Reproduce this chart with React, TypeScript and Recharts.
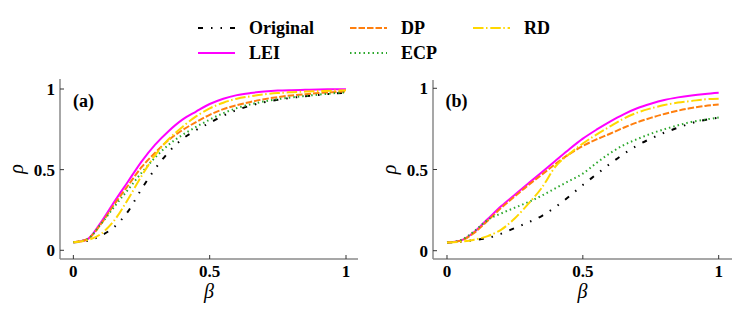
import { LineChart, Line, XAxis, YAxis, Label } from 'recharts';

const BETA = [0, 0.05, 0.1, 0.15, 0.2, 0.25, 0.3, 0.35, 0.4, 0.45, 0.5, 0.55, 0.6, 0.65, 0.7, 0.75, 0.8, 0.85, 0.9, 0.95, 1];

// panel (a)
const ORIGINAL_A = [0.05, 0.058, 0.09, 0.145, 0.24, 0.38, 0.505, 0.61, 0.69, 0.745, 0.79, 0.835, 0.87, 0.897, 0.918, 0.933, 0.945, 0.955, 0.963, 0.971, 0.977];
const LEI_A = [0.05, 0.067, 0.17, 0.3, 0.425, 0.55, 0.655, 0.74, 0.81, 0.86, 0.907, 0.94, 0.962, 0.975, 0.984, 0.99, 0.993, 0.995, 0.997, 0.998, 0.999];
const DP_A = [0.05, 0.067, 0.16, 0.285, 0.4, 0.515, 0.605, 0.685, 0.745, 0.795, 0.84, 0.875, 0.9, 0.92, 0.937, 0.95, 0.96, 0.968, 0.975, 0.98, 0.985];
const ECP_A = [0.05, 0.068, 0.16, 0.27, 0.375, 0.48, 0.575, 0.655, 0.715, 0.765, 0.81, 0.85, 0.882, 0.905, 0.923, 0.937, 0.948, 0.957, 0.965, 0.973, 0.98];
const RD_A = [0.05, 0.062, 0.1, 0.185, 0.315, 0.46, 0.59, 0.69, 0.765, 0.83, 0.88, 0.915, 0.94, 0.955, 0.967, 0.975, 0.98, 0.984, 0.987, 0.99, 0.992];

// panel (b)
const ORIGINAL_B = [0.05, 0.055, 0.065, 0.078, 0.105, 0.14, 0.175, 0.215, 0.27, 0.335, 0.405, 0.47, 0.535, 0.595, 0.648, 0.69, 0.727, 0.757, 0.786, 0.805, 0.82];
const LEI_B = [0.05, 0.062, 0.115, 0.195, 0.275, 0.345, 0.415, 0.485, 0.555, 0.625, 0.69, 0.745, 0.795, 0.84, 0.877, 0.905, 0.928, 0.944, 0.956, 0.965, 0.972];
const DP_B = [0.05, 0.062, 0.11, 0.185, 0.265, 0.335, 0.405, 0.47, 0.535, 0.595, 0.645, 0.685, 0.72, 0.757, 0.79, 0.818, 0.842, 0.862, 0.879, 0.891, 0.9];
const ECP_B = [0.05, 0.065, 0.12, 0.19, 0.23, 0.265, 0.3, 0.34, 0.385, 0.43, 0.475, 0.54, 0.6, 0.65, 0.687, 0.72, 0.748, 0.772, 0.793, 0.807, 0.82];
const RD_B = [0.05, 0.055, 0.068, 0.09, 0.13, 0.2, 0.29, 0.39, 0.52, 0.595, 0.66, 0.715, 0.765, 0.813, 0.85, 0.876, 0.897, 0.912, 0.922, 0.932, 0.936];

const TICKS = [0, 0.5, 1];

const SERIES = [
  { key: 'original', name: 'Original', color: '#000000', dash: '5 8 1.5 8 1.5 8', width: 2 },
  { key: 'lei', name: 'LEI', color: '#ff00ff', dash: undefined, width: 2 },
  { key: 'dp', name: 'DP', color: '#ff7f0e', dash: '6.5 2', width: 2 },
  { key: 'ecp', name: 'ECP', color: '#2ca82c', dash: '1.5 3', width: 2 },
  { key: 'rd', name: 'RD', color: '#ffd700', dash: '10.5 2.5 1.5 2.8', width: 2 },
];

const FONT = '"Liberation Serif", "Times New Roman", Tinos, "Noto Serif", "DejaVu Serif", FreeSerif, serif';

function buildRows(original: number[], lei: number[], dp: number[], ecp: number[], rd: number[]) {
  return BETA.map((b, i) => ({
    beta: b,
    original: original[i],
    lei: lei[i],
    dp: dp[i],
    ecp: ecp[i],
    rd: rd[i],
  }));
}

const rowsA = buildRows(ORIGINAL_A, LEI_A, DP_A, ECP_A, RD_A);
const rowsB = buildRows(ORIGINAL_B, LEI_B, DP_B, ECP_B, RD_B);

const tickStyle = { fill: '#000', fontSize: 17, fontWeight: 'bold', style: { fontFamily: FONT } };
const frame = { stroke: '#8a8a8a', strokeWidth: 1.5 };

function Panel({ rows, left, width, top, right, xDomain, yDomain }: any) {
  return (
    <div style={{ position: 'absolute', left, top: 0 }}>
      <LineChart width={width} height={315} data={rows} margin={{ top, right, left: 0, bottom: 0 }}>
        <XAxis
          dataKey="beta"
          type="number"
          domain={xDomain}
          ticks={TICKS}
          allowDataOverflow
          height={56}
          axisLine={frame}
          tickLine={{ stroke: '#333' }}
          tickSize={-4}
          tickMargin={10}
          tick={tickStyle}
        >
          <Label
            content={({ viewBox }: any) => (
              <text
                x={viewBox.x + viewBox.width / 2}
                y={298}
                textAnchor="middle"
                style={{ fontFamily: FONT, fontStyle: 'italic', fontSize: 20 }}
              >
                β
              </text>
            )}
          />
        </XAxis>
        <XAxis xAxisId="top" orientation="top" dataKey="beta" type="number" domain={xDomain} allowDataOverflow height={0} axisLine={frame} tick={false} tickLine={false} />
        <YAxis
          type="number"
          domain={yDomain}
          ticks={TICKS}
          allowDataOverflow
          width={60}
          axisLine={frame}
          tickLine={{ stroke: '#333' }}
          tickSize={-4}
          tickMargin={9}
          tick={tickStyle}
        >
          <Label
            content={({ viewBox }: any) => {
              const cx = viewBox.x + 23;
              const cy = viewBox.y + viewBox.height / 2;
              return (
                <text
                  x={cx}
                  y={cy}
                  transform={`rotate(-90 ${cx} ${cy})`}
                  textAnchor="middle"
                  style={{ fontFamily: FONT, fontStyle: 'italic', fontSize: 20 }}
                >
                  ρ
                </text>
              );
            }}
          />
        </YAxis>
        <YAxis yAxisId="right" orientation="right" type="number" domain={yDomain} allowDataOverflow width={0} axisLine={frame} tick={false} tickLine={false} />
        {SERIES.map((s) => (
          <Line
            key={s.key}
            type="monotone"
            dataKey={s.key}
            name={s.name}
            stroke={s.color}
            strokeWidth={s.width}
            strokeDasharray={s.dash}
            dot={false}
            activeDot={false}
            isAnimationActive={false}
          />
        ))}
      </LineChart>
    </div>
  );
}

// legend laid out like matplotlib's ncol=3 (filled column by column)
const LEGEND_POS = [
  { x: 198, y: 28 },
  { x: 198, y: 53 },
  { x: 350, y: 28 },
  { x: 350, y: 53 },
  { x: 473, y: 28 },
];

const boldText = { fontFamily: FONT, fontWeight: 'bold' as const, fontSize: 18 };

function Overlay() {
  return (
    <svg width={747} height={315} style={{ position: 'absolute', left: 0, top: 0, pointerEvents: 'none' }}>
      {SERIES.map((s, i) => {
        const p = LEGEND_POS[i];
        return (
          <g key={s.key}>
            <line x1={p.x} x2={p.x + 37} y1={p.y} y2={p.y} stroke={s.color} strokeWidth={s.width} strokeDasharray={s.dash} />
            <text x={p.x + 51} y={p.y + 6} style={boldText} fill="#000">
              {s.name}
            </text>
          </g>
        );
      })}
      <text x={73} y={107} style={boldText}>(a)</text>
      <text x={445.5} y={107} style={boldText}>(b)</text>
    </svg>
  );
}

export default function App() {
  return (
    <div style={{ position: 'absolute', left: 0, top: 0, width: 747, height: 315, background: '#fff' }}>
      <Panel rows={rowsA} left={0} width={370} top={79} right={12} xDomain={[-0.049, 1.044]} yDomain={[-0.054, 1.062]} />
      <Panel rows={rowsB} left={373} width={374} top={80} right={15} xDomain={[-0.0515, 1.049]} yDomain={[-0.051, 1.051]} />
      <Overlay />
    </div>
  );
}
